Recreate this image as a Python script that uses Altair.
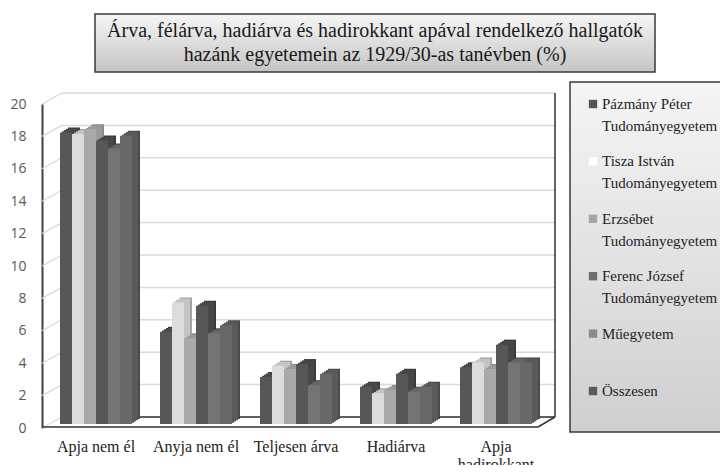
import altair as alt
import pandas as pd

categories = ["Apja nem él", "Anyja nem él", "Teljesen árva", "Hadiárva", "Apja hadirokkant"]
series = [
    "Pázmány Péter Tudományegyetem",
    "Tisza István Tudományegyetem",
    "Erzsébet Tudományegyetem",
    "Ferenc József Tudományegyetem",
    "Műegyetem",
    "Összesen",
]
pazmany = [18.0, 5.7, 2.9, 2.3, 3.5]
tisza = [17.9, 7.5, 3.6, 1.9, 3.8]
erzsebet = [18.2, 5.3, 3.4, 2.1, 3.4]
ferenc = [17.5, 7.3, 3.7, 3.1, 4.9]
muegyetem = [17.0, 5.6, 2.4, 2.0, 3.8]
osszesen = [17.8, 6.1, 3.1, 2.3, 3.8]
front_colors = ["#575757", "#dcdcdc", "#a9a9a9", "#575757", "#747474", "#686868"]
top_colors = ["#4a4a4a", "#c4c4c4", "#9a9a9a", "#474747", "#666666", "#5a5a5a"]
side_colors = ["#3c3c3c", "#a3a3a3", "#8a8a8a", "#3a3a3a", "#565656", "#4a4a4a"]
legend_colors = ["#555555", "#ffffff", "#a5a5a5", "#6e6e6e", "#8a8a8a", "#5a5a5a"]
y_ticks = [0, 2, 4, 6, 8, 10, 12, 14, 16, 18, 20]
title_lines = [
    "Árva, félárva, hadiárva és hadirokkant apával rendelkező hallgatók",
    "hazánk egyetemein az 1929/30-as tanévben (%)",
]

rows = []
for s, vals in zip(series, [pazmany, tisza, erzsebet, ferenc, muegyetem, osszesen]):
    for c, v in zip(categories, vals):
        rows.append({"category": c, "series": s, "value": v})
df = pd.DataFrame(rows)

leg_rows = []
for s in series:
    if s.endswith(" Tudományegyetem"):
        leg_rows.append({"series": s, "line1": s.replace(" Tudományegyetem", ""), "line2": "Tudományegyetem"})
    else:
        leg_rows.append({"series": s, "line1": s, "line2": ""})
leg = pd.DataFrame(leg_rows)
ticks = pd.DataFrame({"v": y_ticks})
frame = pd.DataFrame({"v0": [0], "v1": [20]})
one = pd.DataFrame({"a": [0]})
title_df = pd.DataFrame({"i": list(range(len(title_lines))), "line": title_lines})

W, H = 508, 324
DEPTH_X, DEPTH_Y = 20, -11
BAND = 72
FRONT_DY = -4
yscale = alt.Scale(domain=[0, 20], nice=False, zero=True)
serif = "'Liberation Serif', 'Times New Roman', 'DejaVu Serif', serif"

x_enc = alt.X(
    "category:N", sort=categories,
    scale=alt.Scale(paddingInner=0.28, paddingOuter=0.18),
    axis=alt.Axis(
        title=None, domain=False, ticks=False, labelAngle=0, labelFont=serif,
        labelFontSize=16, labelColor="#222222", labelPadding=10, labelLineHeight=18,
        labelExpr="datum.label == 'Apja hadirokkant' ? ['Apja', 'hadirokkant'] : datum.label",
    ),
)


def offset_enc(shift):
    return alt.XOffset(
        "series:N", sort=series,
        scale=alt.Scale(range=[shift, BAND + shift], paddingInner=0, paddingOuter=0),
    )


gray_grad = alt.Gradient(
    gradient="linear", x1=0, x2=0, y1=0, y2=1,
    stops=[alt.GradientStop(color="#f6f6f6", offset=0), alt.GradientStop(color="#c4c4c4", offset=1)],
)
leg_grad = alt.Gradient(
    gradient="linear", x1=0, x2=0, y1=0, y2=1,
    stops=[alt.GradientStop(color="#f5f5f5", offset=0), alt.GradientStop(color="#cfcfcf", offset=1)],
)

title_box = alt.Chart(one).mark_rect(fill=gray_grad, stroke="#3a3a3a", strokeWidth=1.5).encode(
    x=alt.value(53), x2=alt.value(613), y=alt.value(-90), y2=alt.value(-32)
)
title_text = alt.Chart(title_df).mark_text(
    font=serif, fontSize=20, color="#1a1a1a", baseline="alphabetic", align="center"
).encode(
    x=alt.value(333),
    y=alt.Y("i:O", scale=alt.Scale(type="point", range=[-67, -43], padding=0), axis=None),
    text="line:N",
)

grid = alt.Chart(ticks).mark_rule(color="#d9d9d9", strokeWidth=1.5, yOffset=DEPTH_Y).encode(
    x=alt.value(DEPTH_X), x2=alt.value(513), y=alt.Y("v:Q", scale=yscale, axis=None)
)
diag = alt.Chart(ticks).mark_rule(color="#d9d9d9", strokeWidth=1.2, y2Offset=DEPTH_Y).encode(
    x=alt.value(0), x2=alt.value(DEPTH_X), y=alt.Y("v:Q", scale=yscale, axis=None), y2="v:Q"
)
back_floor = alt.Chart(frame).mark_rule(color="#333333", strokeWidth=1.5, yOffset=DEPTH_Y).encode(
    x=alt.value(DEPTH_X), x2=alt.value(513), y=alt.Y("v0:Q", scale=yscale, axis=None)
)
right_wall = alt.Chart(frame).mark_rule(color="#333333", strokeWidth=1.5, yOffset=DEPTH_Y, y2Offset=DEPTH_Y).encode(
    x=alt.value(513), y=alt.Y("v0:Q", scale=yscale, axis=None), y2="v1:Q"
)
front_floor = alt.Chart(frame).mark_rule(color="#333333", strokeWidth=1.5, yOffset=-1).encode(
    x=alt.value(0), x2=alt.value(496), y=alt.Y("v0:Q", scale=yscale, axis=None)
)
floor_diag = alt.Chart(frame).mark_rule(color="#333333", strokeWidth=1.5, yOffset=-1, y2Offset=DEPTH_Y).encode(
    x=alt.value(496), x2=alt.value(513), y=alt.Y("v0:Q", scale=yscale, axis=None), y2="v0:Q"
)

# 3D depth: stacked shifted copies, deepest first (side faces), then top-face steps
depth_layers = []
steps = [(8, -5, side_colors), (6, -3.75, top_colors), (4, -2.5, top_colors), (2, -1.25, top_colors)]
for sx, sy, cols in steps:
    depth_layers.append(
        alt.Chart(df).mark_bar(yOffset=FRONT_DY + sy, y2Offset=FRONT_DY + sy).encode(
            x=x_enc, xOffset=offset_enc(sx),
            y=alt.Y("value:Q", scale=yscale, axis=None),
            color=alt.Color("series:N", sort=series, scale=alt.Scale(domain=series, range=cols), legend=None),
        )
    )

front = alt.Chart(df).mark_bar(yOffset=FRONT_DY, y2Offset=FRONT_DY).encode(
    x=x_enc, xOffset=offset_enc(0),
    y=alt.Y(
        "value:Q", scale=yscale, title=None,
        axis=alt.Axis(
            values=y_ticks, grid=False, ticks=False, domainColor="#404040", domainWidth=2,
            labelColor="#595959", labelFont="Open Sans", labelFontSize=14, labelPadding=16,
        ),
    ),
    color=alt.Color("series:N", sort=series, scale=alt.Scale(domain=series, range=front_colors), legend=None),
)

leg_box = alt.Chart(one).mark_rect(fill=leg_grad, stroke="#3a3a3a", strokeWidth=1.5).encode(
    x=alt.value(528), x2=alt.value(720), y=alt.value(-22), y2=alt.value(328)
)
leg_y = alt.Y("series:N", sort=series, scale=alt.Scale(type="point", range=[0, 287], padding=0), axis=None)
leg_sq = alt.Chart(leg).mark_square(size=70, opacity=1).encode(
    x=alt.value(551), y=leg_y,
    color=alt.Color("series:N", sort=series, scale=alt.Scale(domain=series, range=legend_colors), legend=None),
)
leg_t1 = alt.Chart(leg).mark_text(align="left", baseline="middle", font=serif, fontSize=15, color="#222222").encode(
    x=alt.value(560), y=leg_y, text="line1:N"
)
leg_t2 = alt.Chart(leg).mark_text(align="left", baseline="middle", font=serif, fontSize=15, color="#222222", dy=22).encode(
    x=alt.value(560), y=leg_y, text="line2:N"
)

chart = alt.layer(
    title_box, title_text, grid, diag, back_floor, right_wall, front_floor, floor_diag,
    *depth_layers, front,
    leg_box, leg_sq, leg_t1, leg_t2,
).resolve_scale(y="independent", color="independent", xOffset="independent").properties(
    width=W, height=H,
    autosize=alt.AutoSizeParams(type="none"),
    padding={"left": 34, "top": 96, "right": 170, "bottom": 37},
    background="white",
).configure_view(strokeWidth=0)

chart.save("out.html", embed_options={"renderer": "svg", "actions": False})
